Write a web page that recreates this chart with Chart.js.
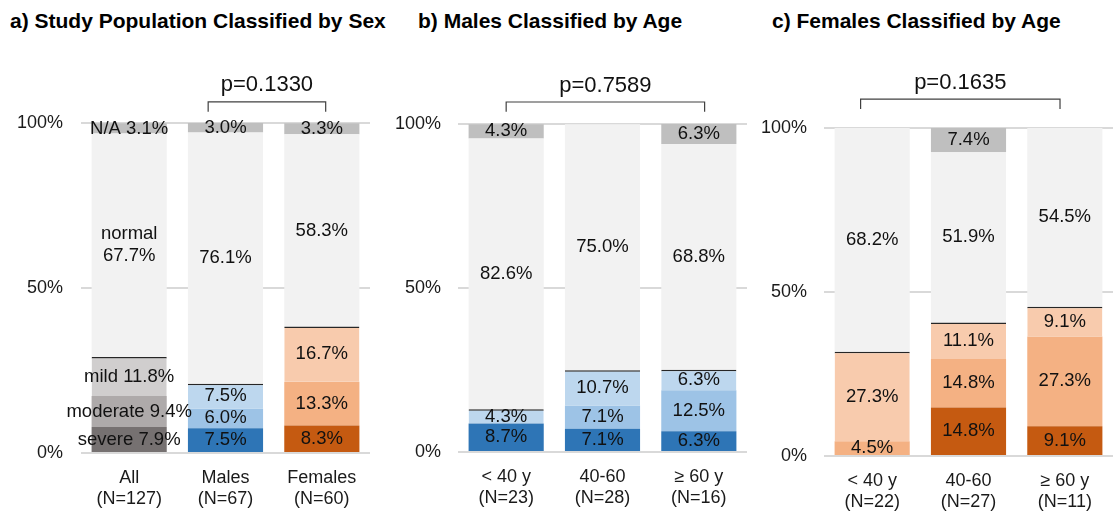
<!DOCTYPE html>
<html>
<head>
<meta charset="utf-8">
<script src="https://cdn.jsdelivr.net/npm/chart.js@4.4.1/dist/chart.umd.min.js"></script>
<style>
  body { margin: 0; background: #fff; width: 1119px; height: 514px; position: relative; overflow: hidden;
         font-family: "Liberation Sans", Arial, Helvetica, sans-serif; }
  .title { position: absolute; top: 9px; font-weight: bold; font-size: 21px; line-height: 24px; color: #000; white-space: nowrap; }
  canvas { position: absolute; top: 0; }
</style>
</head>
<body>
<div class="title" style="left:10px">a) Study Population Classified by Sex</div>
<div class="title" style="left:418px">b) Males Classified by Age</div>
<div class="title" style="left:772px">c) Females Classified by Age</div>

<canvas id="chartA" width="375" height="514" style="left:0px"></canvas>
<canvas id="chartB" width="375" height="514" style="left:375px"></canvas>
<canvas id="chartC" width="369" height="514" style="left:750px"></canvas>

<script>
// stacking order, bottom to top
const levels = ['severe', 'moderate', 'mild', 'normal', 'N/A'];

// a) all / by sex
const sexCategories = [['All', '(N=127)'], ['Males', '(N=67)'], ['Females', '(N=60)']];
const sexSevere   = [7.9, 7.5, 8.3];
const sexModerate = [9.4, 6.0, 13.3];
const sexMild     = [11.8, 7.5, 16.7];
const sexNormal   = [67.7, 76.1, 58.3];
const sexNA       = [3.1, 3.0, 3.3];

// b) males by age
const maleCategories = [['< 40 y', '(N=23)'], ['40-60', '(N=28)'], ['\u2265 60 y', '(N=16)']];
const maleSevere   = [8.7, 7.1, 6.3];
const maleModerate = [0, 7.1, 12.5];
const maleMild     = [4.3, 10.7, 6.3];
const maleNormal   = [82.6, 75.0, 68.8];
const maleNA       = [4.3, 0, 6.3];

// c) females by age
const femaleCategories = [['< 40 y', '(N=22)'], ['40-60', '(N=27)'], ['\u2265 60 y', '(N=11)']];
const femaleSevere   = [0, 14.8, 9.1];
const femaleModerate = [4.5, 14.8, 27.3];
const femaleMild     = [27.3, 11.1, 9.1];
const femaleNormal   = [68.2, 51.9, 54.5];
const femaleNA       = [0, 7.4, 0];

const yTicks = [0, 50, 100];
const pValues = ['p=0.1330', 'p=0.7589', 'p=0.1635'];

// colours
const gray   = { severe: '#767171', moderate: '#aeaaaa', mild: '#d0cece' };
const blue   = { severe: '#2e75b6', moderate: '#9dc3e6', mild: '#bdd7ee' };
const orange = { severe: '#c55a11', moderate: '#f4b183', mild: '#f8cbad' };
const normalColor = '#f2f2f2';
const naColor = '#bfbfbf';
const textFont = '"Liberation Sans", Arial, Helvetica, sans-serif';

// value labels inside the segments + p-value bracket
const labelPlugin = {
  id: 'segLabels',
  afterDatasetsDraw(chart) {
    const ctx = chart.ctx;
    const opts = chart.options.plugins.segLabels;
    ctx.save();
    ctx.font = '18.5px ' + textFont;
    ctx.fillStyle = '#111';
    ctx.textAlign = 'center';
    ctx.textBaseline = 'middle';
    chart.data.datasets.forEach((ds, i) => {
      const meta = chart.getDatasetMeta(i);
      meta.data.forEach((bar, j) => {
        const v = ds.data[j];
        if (!v) return;
        const yc = (bar.y + bar.base) / 2;
        const txt = v.toFixed(1) + '%';
        if (opts.namedFirst && j === 0) {
          if (ds.label === 'normal') {
            ctx.fillText('normal', bar.x, yc - 11);
            ctx.fillText(txt, bar.x, yc + 11);
          } else {
            ctx.fillText(ds.label + ' ' + txt, bar.x, yc);
          }
        } else {
          ctx.fillText(txt, bar.x, yc);
        }
      });
    });

    // bracket
    const xs = chart.scales.x, ys = chart.scales.y;
    const x1 = xs.getPixelForValue(opts.from);
    const x2 = xs.getPixelForValue(opts.to);
    const yTop = ys.getPixelForValue(opts.bracketAt);
    const yEnd = ys.getPixelForValue(opts.bracketAt - 3);
    ctx.strokeStyle = '#404040';
    ctx.lineWidth = 1.2;
    ctx.beginPath();
    ctx.moveTo(x1, yEnd);
    ctx.lineTo(x1, yTop);
    ctx.lineTo(x2, yTop);
    ctx.lineTo(x2, yEnd);
    ctx.stroke();
    ctx.font = '22px ' + textFont;
    ctx.fillStyle = '#111';
    ctx.fillText(opts.pText, (x1 + x2) / 2, ys.getPixelForValue(opts.bracketAt + 5));
    ctx.restore();
  }
};

function makePanel(id, categories, series, palettes, box, extra) {
  const colorsFor = (lvl) => palettes.map(p => p[lvl]);
  const datasets = [
    { label: 'severe',   data: series[0], backgroundColor: colorsFor('severe') },
    { label: 'moderate', data: series[1], backgroundColor: colorsFor('moderate') },
    { label: 'mild',     data: series[2], backgroundColor: colorsFor('mild'),
      borderColor: '#262626', borderWidth: { top: 1.5, left: 0, right: 0, bottom: 0 }, borderSkipped: false },
    { label: 'normal',   data: series[3], backgroundColor: normalColor },
    { label: 'N/A',      data: series[4], backgroundColor: naColor }
  ];

  new Chart(document.getElementById(id), {
    type: 'bar',
    data: { labels: categories, datasets: datasets },
    options: {
      responsive: false,
      animation: false,
      devicePixelRatio: 1,
      layout: { padding: { top: box.top, right: box.right, left: 0, bottom: 0 } },
      datasets: { bar: { barPercentage: 0.78, categoryPercentage: 1 } },
      plugins: {
        legend: { display: false },
        tooltip: { enabled: false },
        segLabels: extra
      },
      scales: {
        x: {
          stacked: true,
          grid: { display: false },
          border: { display: false },
          ticks: { color: '#1a1a1a', font: { family: textFont, size: 18 }, padding: 6, maxRotation: 0 },
          afterFit: (s) => { s.height = box.xHeight; }
        },
        y: {
          stacked: true,
          min: 0, max: 100,
          afterBuildTicks: (s) => { s.ticks = yTicks.map(v => ({ value: v })); },
          grid: { color: '#d9d9d9', lineWidth: 2, drawTicks: false },
          border: { display: false },
          ticks: { color: '#1a1a1a', font: { family: textFont, size: 18 }, padding: box.tickPad,
                   callback: (v) => v + '%' },
          afterFit: (s) => { s.width = box.left; }
        }
      }
    },
    plugins: [labelPlugin]
  });
}

makePanel('chartA', sexCategories,
  [sexSevere, sexModerate, sexMild, sexNormal, sexNA],
  [gray, blue, orange],
  { top: 123, right: 5, left: 81, xHeight: 61, tickPad: 18 },
  { namedFirst: true, pText: pValues[0], from: 0.82, to: 2.04, bracketAt: 106.4 });

makePanel('chartB', maleCategories,
  [maleSevere, maleModerate, maleMild, maleNormal, maleNA],
  [blue, blue, blue],
  { top: 124, right: 3, left: 83, xHeight: 62, tickPad: 17 },
  { namedFirst: false, pText: pValues[1], from: 0, to: 2.06, bracketAt: 106.7 });

makePanel('chartC', femaleCategories,
  [femaleSevere, femaleModerate, femaleMild, femaleNormal, femaleNA],
  [orange, orange, orange],
  { top: 128, right: 6, left: 74, xHeight: 58, tickPad: 17 },
  { namedFirst: false, pText: pValues[2], from: -0.12, to: 1.95, bracketAt: 108.8 });
</script>
</body>
</html>
